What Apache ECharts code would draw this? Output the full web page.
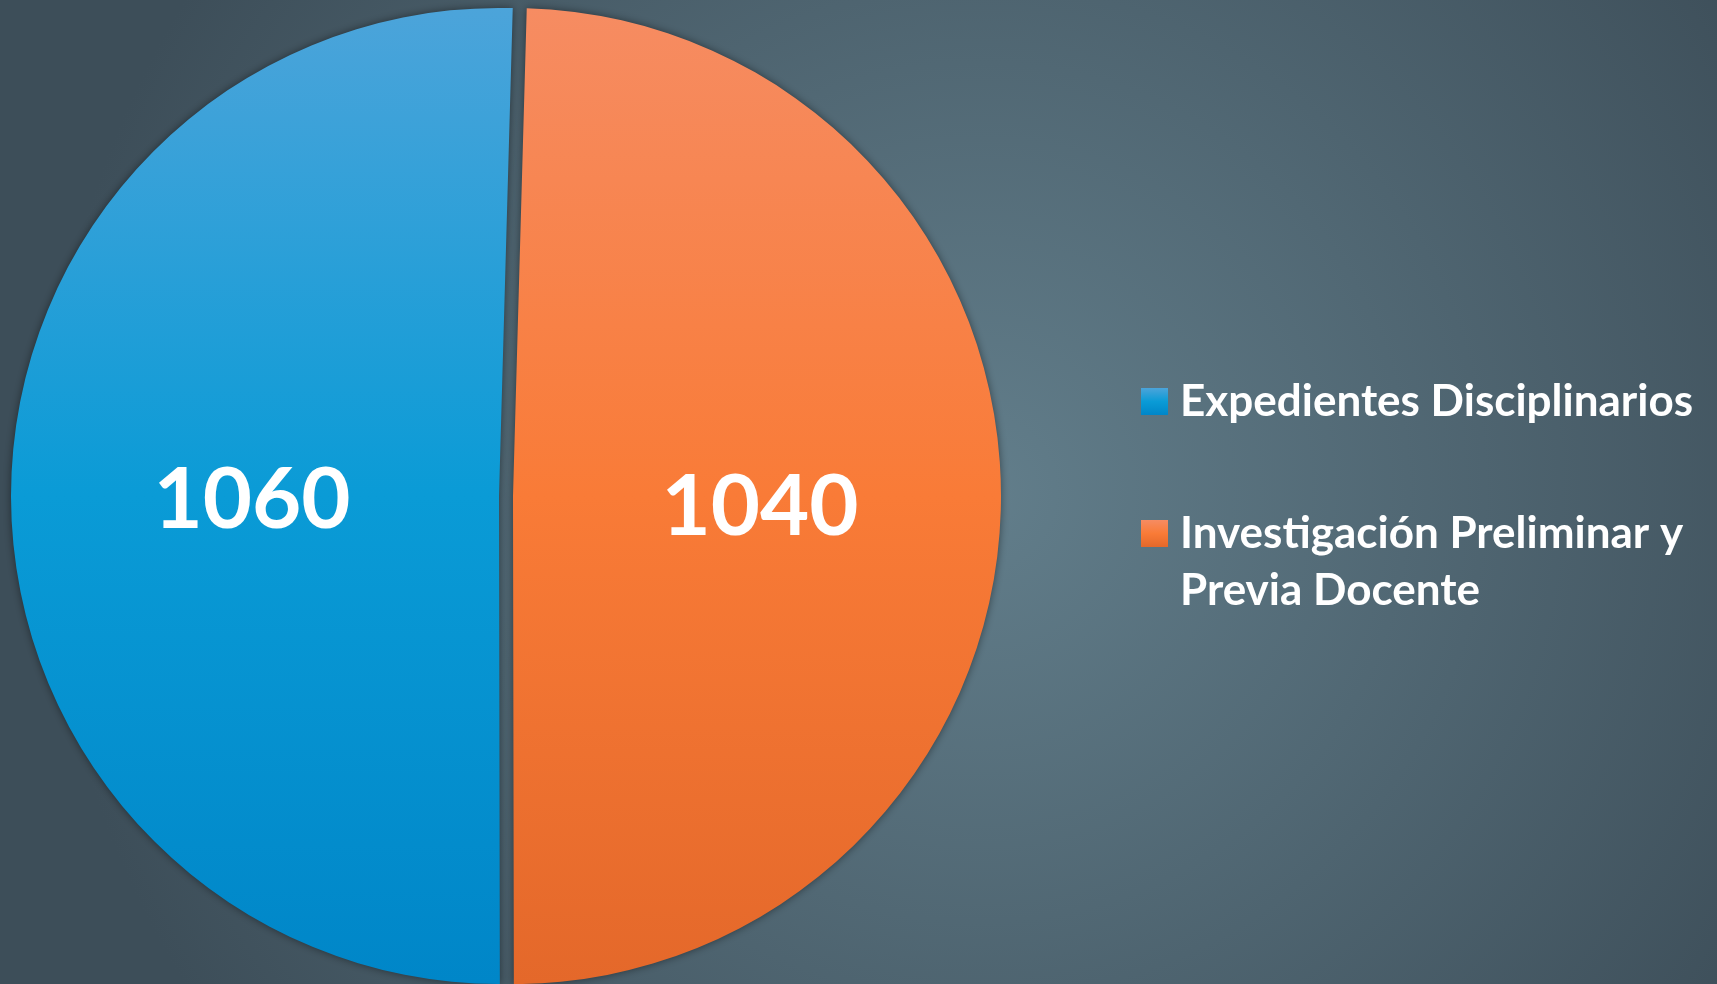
<!DOCTYPE html>
<html>
<head>
<meta charset="utf-8">
<script src="https://cdn.jsdelivr.net/npm/echarts@6/dist/echarts.min.js"></script>
<style>
    html, body { margin: 0; padding: 0; width: 100%; height: 100%; overflow: hidden; }
    #chart { width: 1717px; height: 984px; }
</style>
</head>
<body>
<div id="chart"></div>
<script>
const categories = ['Expedientes Disciplinarios', 'Investigación Preliminar y Previa Docente'];
// leading blank line keeps the icon level with the first line of a wrapped label
const legendLabels = ['Expedientes Disciplinarios', '\nInvestigación Preliminar y\nPrevia Docente'];
const values = [1060, 1040];

const gradients = [
    ['#4ca4da', '#0a9bd6', '#0086c8'],
    ['#f68c62', '#f97b37', '#e4682a']
];

function vGrad(stops) {
    return {
        type: 'linear', x: 0, y: 0, x2: 0, y2: 1,
        colorStops: [
            { offset: 0, color: stops[0] },
            { offset: 0.5, color: stops[1] },
            { offset: 1, color: stops[2] }
        ]
    };
}

const chart = echarts.init(document.getElementById('chart'));

chart.setOption({
    animation: false,
    backgroundColor: {
        type: 'radial', x: 0.57, y: 0.5, r: 0.95,
        colorStops: [
            { offset: 0, color: '#627e8b' },
            { offset: 1, color: '#3d4e59' }
        ]
    },
    legend: {
        orient: 'vertical',
        left: 1141,
        top: 373,
        padding: 0,
        itemWidth: 27,
        itemHeight: 27,
        itemGap: 18,
        icon: 'rect',
        selectedMode: false,
        data: categories,
        formatter: (name) => legendLabels[categories.indexOf(name)],
        textStyle: {
            color: '#ffffff',
            fontFamily: 'Lato',
            fontWeight: 'bold',
            fontSize: 44,
            lineHeight: 57,
            padding: [0, 0, 0, 7]
        }
    },
    series: [{
        type: 'pie',
        center: [506, 496],
        radius: 488,
        startAngle: 270.1,
        clockwise: true,
        selectedMode: 'multiple',
        selectedOffset: 7,
        emphasis: { disabled: true },
        label: {
            show: true,
            position: 'inside',
            formatter: '{c}',
            color: '#ffffff',
            fontFamily: 'Lato',
            fontWeight: 'bold',
            fontSize: 85
        },
        labelLayout: { dy: 8 },
        labelLine: { show: false },
        itemStyle: {
            borderWidth: 0,
            shadowBlur: 8,
            shadowColor: 'rgba(0, 0, 0, 0.45)'
        },
        data: categories.map((name, i) => ({
            name: name,
            value: values[i],
            selected: true,
            itemStyle: { color: vGrad(gradients[i]) },
            select: { itemStyle: { color: vGrad(gradients[i]) } }
        }))
    }]
});
</script>
</body>
</html>
